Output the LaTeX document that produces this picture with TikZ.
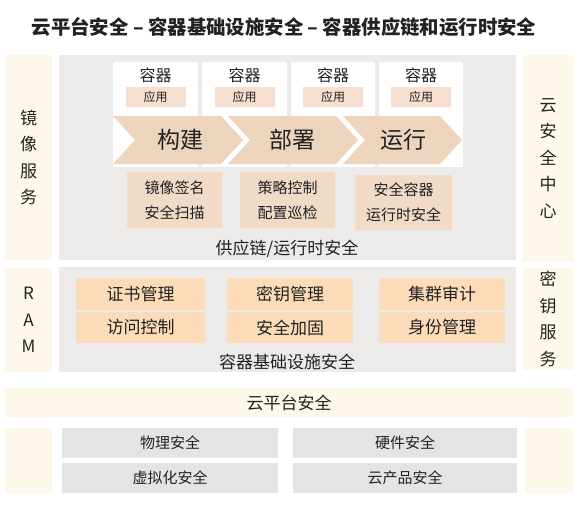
\documentclass[tikz,border=0pt]{standalone}
\usepackage{fontspec}
\setmainfont{Noto Sans CJK SC}
\definecolor{cream}{HTML}{FEF8EA}
\definecolor{panelgray}{HTML}{EDEBEA}
\definecolor{boxgray}{HTML}{E5E4E4}
\definecolor{orangebox}{HTML}{FCDCB8}
\definecolor{tanarrow}{HTML}{EDD4BC}
\definecolor{tanbox}{HTML}{F1DAC6}
\definecolor{appbox}{HTML}{F7DFD0}
\definecolor{ink}{HTML}{222222}
\begin{document}
\begin{tikzpicture}[x=1pt,y=-1pt,
  every node/.style={inner sep=0pt, text=ink},
  plain/.style={rectangle, fill=#1},
  fs/.style={font=\fontsize{#1}{#1}\selectfont},
  vtext/.style={align=center, font=\fontsize{17}{26.5}\selectfont},
  twoline/.style={align=center, font=\fontsize{15}{25}\selectfont},
  arrowshape/.style={fill=tanarrow}]
\useasboundingbox (0,0) rectangle (588,505);
\fill[white] (0,0) rectangle (588,505);

% title
\node[font=\bfseries\fontsize{19.4}{19.4}\selectfont] (title) at (284,27) {云平台安全 – 容器基础设施安全 – 容器供应链和运行时安全};

% side columns
\node[plain=cream, minimum width=47pt, minimum height=205pt, vtext] (left1) at (28.5,157.5) {镜\\像\\服\\务};
\node[plain=cream, minimum width=47pt, minimum height=104pt, vtext] (left2) at (28.5,320) {R\\A\\M};
\node[plain=cream, minimum width=47pt, minimum height=65pt] (left3) at (28.5,460.5) {};
\node[plain=cream, minimum width=50pt, minimum height=207pt, vtext] (right1) at (548,158.5) {云\\安\\全\\中\\心};
\node[plain=cream, minimum width=50pt, minimum height=102pt, vtext] (right2) at (548,319) {密\\钥\\服\\务};
\node[plain=cream, minimum width=48pt, minimum height=65pt] (right3) at (549,460.5) {};

% gray panels
\node[plain=panelgray, minimum width=457pt, minimum height=205pt] (supply) at (287.5,157.5) {};
\node[plain=panelgray, minimum width=457pt, minimum height=105pt] (infra) at (287.5,319.5) {};
\node[fs=17] (supplylabel) at (287,249) {供应链/运行时安全};
\node[fs=17] (infralabel) at (287,362) {容器基础设施安全};

% container cells
\foreach \cx/\w/\n in {155.5/85/1, 244.5/85/2, 333/84/3, 421/84/4}{
  \node[plain=white, minimum width=\w pt, minimum height=105pt] (cell\n) at (\cx,114.5) {};
  \node[fs=16] (cont\n) at (\cx,75) {容器};
  \node[plain=appbox, minimum width=60pt, minimum height=20pt, fs=12] (app\n) at (\cx,97) {应用};
}

% process arrows
\foreach \L/\R/\n in {113/221/1, 228/336/2, 343/440/3}{
  \fill[arrowshape] (\L,116) -- (\R,116) -- (\R+22,140) -- (\R,164) -- (\L,164) -- (\L+22,140) -- cycle;
}
\node[fs=23] (build) at (180,140) {构建};
\node[fs=23] (deploy) at (292,140) {部署};
\node[fs=23] (run) at (403,140) {运行};

% supply chain boxes
\node[plain=tanbox, minimum width=95pt, minimum height=56pt, twoline] (sign) at (174.5,200) {镜像签名\\安全扫描};
\node[plain=tanbox, minimum width=95pt, minimum height=56pt, twoline] (policy) at (287.5,200) {策略控制\\配置巡检};
\node[plain=tanbox, minimum width=97pt, minimum height=55pt, twoline] (runtime) at (403.5,202.5) {安全容器\\运行时安全};

% infrastructure boxes
\node[plain=orangebox, minimum width=129pt, minimum height=32pt, fs=17] (cert) at (140.5,294) {证书管理};
\node[plain=orangebox, minimum width=126pt, minimum height=32pt, fs=17] (key) at (290,294) {密钥管理};
\node[plain=orangebox, minimum width=126pt, minimum height=32pt, fs=17] (audit) at (442,294) {集群审计};
\node[plain=orangebox, minimum width=129pt, minimum height=31pt, fs=17] (access) at (140.5,327.5) {访问控制};
\node[plain=orangebox, minimum width=126pt, minimum height=31pt, fs=17] (harden) at (290,327.5) {安全加固};
\node[plain=orangebox, minimum width=126pt, minimum height=31pt, fs=17] (identity) at (442,327.5) {身份管理};

% cloud platform band
\node[plain=cream, minimum width=568pt, minimum height=29pt, fs=17] (platform) at (289,402.5) {云平台安全};

% bottom boxes
\node[plain=boxgray, minimum width=216pt, minimum height=30pt, fs=15] (phys) at (170,443) {物理安全};
\node[plain=boxgray, minimum width=224pt, minimum height=30pt, fs=15] (hw) at (405,443) {硬件安全};
\node[plain=boxgray, minimum width=216pt, minimum height=30pt, fs=15] (virt) at (170,478) {虚拟化安全};
\node[plain=boxgray, minimum width=224pt, minimum height=30pt, fs=15] (prod) at (405,478) {云产品安全};
\end{tikzpicture}
\end{document}
